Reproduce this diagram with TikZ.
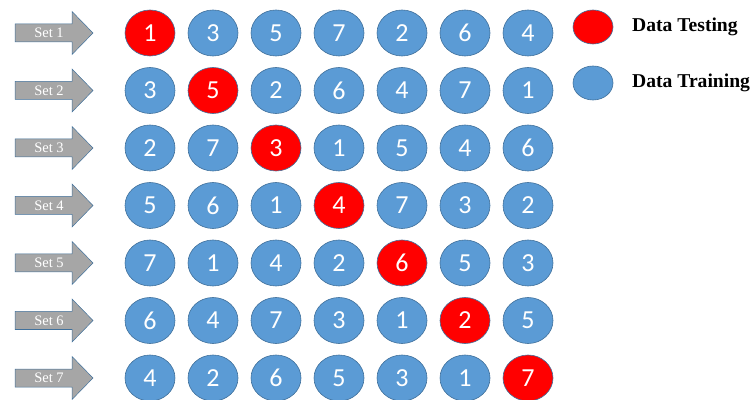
\documentclass[tikz,border=0pt]{standalone}
\usepackage{fontspec}
\setmainfont{Liberation Serif}
\newfontfamily\digitfont{Carlito}
\usetikzlibrary{shapes.geometric}
\definecolor{dblue}{HTML}{5B9BD5}
\definecolor{dedge}{HTML}{41719C}
\definecolor{dred}{HTML}{FF0000}
\definecolor{agray}{HTML}{A6A6A6}
\tikzset{
  x=1pt, y=1pt,
  ball/.style={ellipse, draw=dedge, line width=0.6pt, minimum width=50pt, minimum height=46pt, inner sep=0pt, text=white, font=\digitfont\fontsize{26}{26}\selectfont},
  trainball/.style={ball, fill=dblue},
  testball/.style={ball, fill=dred},
  arrowshape/.style={fill=agray, draw=dedge, line width=0.5pt, line join=miter},
  setlabel/.style={text=white, font=\fontsize{14.5}{14.5}\selectfont, inner sep=0pt},
  legendball/.style={ellipse, draw=dedge, line width=0.6pt, minimum width=40pt, minimum height=34pt, inner sep=0pt},
  legendtext/.style={anchor=west, font=\bfseries\fontsize{19.6}{19.6}\selectfont, inner sep=0pt}
}
\begin{document}
\begin{tikzpicture}
\useasboundingbox (0,0) rectangle (752,399);
% data rows: set number -> sequence
\foreach \r/\seq in {1/{1,3,5,7,2,6,4},2/{3,5,2,6,4,7,1},3/{2,7,3,1,5,4,6},4/{5,6,1,4,7,3,2},5/{7,1,4,2,6,5,3},6/{6,4,7,3,1,2,5},7/{4,2,6,5,3,1,7}}{
  \pgfmathsetmacro{\yy}{399-33-57.5*(\r-1)}
  % arrow
  \draw[arrowshape] (15,\yy-9) -- (72,\yy-9) -- (72,\yy-21.5) -- (93,\yy) -- (72,\yy+21.5) -- (72,\yy+9) -- (15,\yy+9) -- cycle;
  \node[setlabel] (set\r) at (49,\yy) {Set \r};
  \foreach \v [count=\c] in \seq {
    \pgfmathsetmacro{\xx}{150+63*(\c-1)}
    \ifnum\c=\r
      \node[testball] (b\r-\c) at (\xx,\yy) {\v};
    \else
      \node[trainball] (b\r-\c) at (\xx,\yy) {\v};
    \fi
  }
}
% legend
\node[legendball, fill=dred] (legtest) at (593,399-27) {};
\node[legendball, fill=dblue] (legtrain) at (593,399-83) {};
\node[legendtext] (legtesttext) at (632,399-27) {Data Testing};
\node[legendtext] (legtraintext) at (632,399-83) {Data Training};
\end{tikzpicture}
\end{document}
